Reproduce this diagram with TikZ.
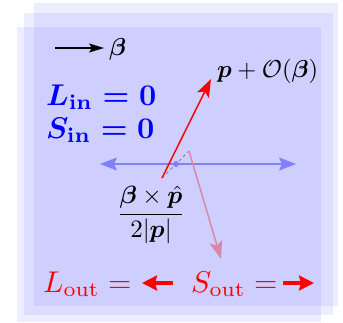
\documentclass[tikz,border=0pt]{standalone}
\usepackage{amsmath,amssymb,bm}
\usetikzlibrary{arrows.meta}
\definecolor{SliceBlue}{RGB}{60,60,255}
\definecolor{AxisBlue}{RGB}{128,128,248}
\definecolor{KickPink}{RGB}{218,135,168}
\newcommand{\biglbl}[1]{\scalebox{3.0}{#1}}
\newcommand{\medlbl}[1]{\scalebox{2.45}{#1}}

\begin{document}
\begin{tikzpicture}[x=1pt, y=-1pt,
    slice/.style={fill=SliceBlue, fill opacity=0.09, draw=none},
    inlbl/.style={text=blue, font=\boldmath, anchor=base west, inner sep=0pt},
    outlbl/.style={text=red, anchor=base west, inner sep=0pt},
    vec/.style={inner sep=0pt},
    kick/.style={-{Stealth[length=18pt, width=13pt, inset=4pt]}, line width=1.5pt},
    bluearr/.style={{Stealth[length=17pt, width=13pt, inset=3pt]}-{Stealth[length=17pt, width=13pt, inset=3pt]}, draw=AxisBlue, line width=1.5pt},
    fat/.style={-{Stealth[length=15pt, width=15pt, inset=2pt]}, draw=red, line width=4pt}
  ]
    \useasboundingbox (0,0) rectangle (343,322);

    % three slices
    \fill[slice] (34,3) rectangle (338,306);
    \fill[slice] (24,13) rectangle (333,315);
    \fill[slice] (17,27) rectangle (321,322);

    % boost direction
    \coordinate (b0) at (55,48);
    \coordinate (b1) at (104,48);
    \draw[-{Stealth[length=15pt, width=9pt, inset=3pt]}, line width=1.2pt] (b0) -- (b1);
    \node[vec, anchor=west] (beta) at (109,49) {\medlbl{$\bm{\beta}$}};

    \node[inlbl] (lin) at (46,105) {\biglbl{$L_{\mathrm{in}} = 0$}};
    \node[inlbl] (sin) at (46,138) {\biglbl{$S_{\mathrm{in}} = 0$}};

    \coordinate (bl) at (100,164);
    \coordinate (br) at (296,164);
    \draw[bluearr] (bl) -- (br);

    \coordinate (o) at (162,178);
    \coordinate (c) at (189,151);
    \coordinate (ptip) at (211,79);
    \coordinate (qtip) at (221,259);
    \draw[gray, dashed, line width=0.9pt] (o) -- (c);
    \fill[AxisBlue] (176,164) circle (3);
    \draw[kick, draw=red] (o) -- (ptip);
    \draw[kick, draw=KickPink] (c) -- (qtip);

    \node[vec, anchor=west] (pb) at (217,71) {\medlbl{$\bm{p} + \mathcal{O}(\bm{\beta})$}};
    \node[vec] (shift) at (151,215) {\scalebox{2.5}{$\dfrac{\bm{\beta}\times\hat{\bm{p}}}{2|\bm{p}|}$}};

    \node[outlbl] (lout) at (43,292) {\biglbl{$L_{\mathrm{out}} =$}};
    \node[outlbl] (sout) at (191,292) {\biglbl{$S_{\mathrm{out}} =$}};
    \coordinate (l0) at (173,283);
    \coordinate (l1) at (142,283);
    \coordinate (s0) at (283,283);
    \coordinate (s1) at (314,283);
    \draw[fat] (l0) -- (l1);
    \draw[fat] (s0) -- (s1);
  \end{tikzpicture}
\end{document}
